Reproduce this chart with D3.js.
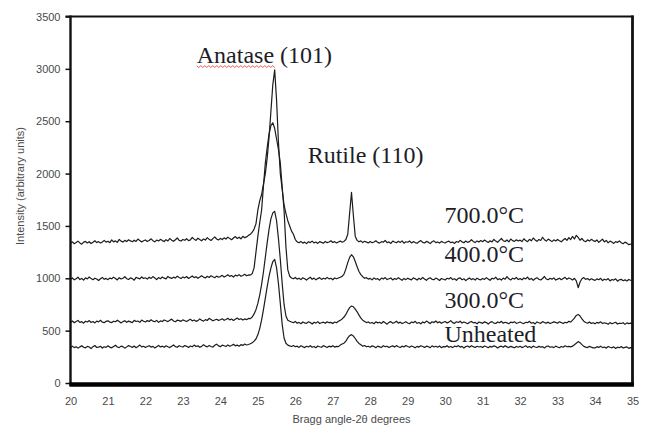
<!DOCTYPE html>
<html>
<head>
<meta charset="utf-8">
<script src="https://cdn.jsdelivr.net/npm/d3@7"></script>
<style>
  body { margin: 0; background: #fff; }
  svg { display: block; }
</style>
</head>
<body>
<div id="viz"></div>
<script>
// scans are sampled every 0.05 degree, 20 -> 35
const angleStart = 20, angleStep = 0.05;

const xTicks = [20,21,22,23,24,25,26,27,28,29,30,31,32,33,34,35];
const yTicks = [0,500,1000,1500,2000,2500,3000,3500];

const unheated = [
  340,352,338,347,333,345,356,341,336,350,344,329,347,358,339,343,351,334,346,340,
  355,342,336,349,361,344,338,352,347,333,345,357,348,340,353,337,349,362,345,351,
  339,348,356,343,350,335,347,359,344,352,341,355,346,338,351,363,347,341,356,349,
  344,358,350,339,353,346,362,348,355,341,350,366,352,345,358,349,343,360,371,354,
  347,361,356,349,364,352,358,370,355,362,351,366,359,372,363,368,375,385,400,420,
  460,520,600,700,810,920,1020,1100,1160,1180,1100,950,760,560,430,380,362,355,349,358,
  346,352,340,355,347,338,351,344,356,342,349,337,353,346,341,357,348,339,352,345,
  356,343,350,347,362,372,380,400,430,452,462,448,425,398,378,365,352,358,346,351,
  342,355,348,337,352,345,340,356,347,351,338,349,355,343,357,346,339,352,344,358,
  348,341,353,346,336,350,343,356,349,340,352,347,338,355,344,351,342,354,337,348,
  345,356,341,349,338,352,346,357,343,350,335,348,353,342,356,347,339,351,344,349,
  340,353,346,337,350,343,355,348,334,347,352,341,356,345,338,350,343,336,349,342,
  351,338,346,355,340,348,336,352,344,339,350,343,347,335,349,353,341,346,338,352,
  344,337,349,342,355,346,350,345,352,365,380,395,385,366,350,343,338,350,342,336,
  335,347,340,352,338,344,333,349,341,336,345,330,342,337,348,334,340,345,331,338,
  333
];

const heated300 = [
  580,592,575,588,597,579,586,571,590,583,596,578,587,574,591,584,599,581,576,589,
  594,582,577,590,585,600,588,573,586,595,580,591,584,577,598,587,592,579,601,590,
  583,596,588,604,591,585,598,579,593,587,602,594,586,599,610,592,585,600,596,589,
  603,595,587,599,608,593,601,589,596,612,600,591,605,597,618,606,594,602,609,598,
  604,613,599,607,618,603,611,597,609,620,606,614,601,612,605,617,615,630,660,700,
  760,840,940,1060,1200,1340,1470,1570,1625,1640,1550,1380,1180,950,750,640,600,590,582,576,
  588,571,579,566,583,574,569,585,577,563,580,572,586,568,575,581,570,584,576,579,
  568,582,575,590,598,612,630,655,690,720,735,728,705,680,648,620,600,588,577,583,
  571,578,566,584,574,580,569,587,575,562,579,586,571,577,590,572,581,568,576,585,
  573,566,582,576,589,570,578,565,583,574,591,579,568,585,577,592,575,584,570,580,
  587,574,581,596,577,569,585,578,590,572,583,575,566,580,588,574,579,565,582,576,
  570,584,577,563,579,586,572,568,583,575,589,571,580,574,566,581,577,585,569,575,
  582,573,567,580,576,589,571,578,564,583,575,570,586,577,572,581,568,576,584,579,
  571,585,577,568,580,574,589,582,600,620,645,655,640,612,590,578,571,583,569,576,
  565,579,572,584,568,575,570,561,577,566,573,580,563,571,568,576,560,574,567,572,
  569
];

const heated400 = [
  990,1003,985,996,1010,988,999,983,1005,994,1012,997,986,1001,993,979,996,1008,990,999,
  987,1002,995,1011,998,984,1006,993,1000,1015,996,989,1004,997,982,1009,1001,994,1013,998,
  1005,992,1010,999,1016,1003,987,1007,996,1012,1001,994,1018,1006,999,1011,1002,1020,1008,997,
  1013,1004,1017,998,1009,1022,1006,1015,1000,1012,1025,1011,1003,1019,1008,1024,1014,1005,1021,1010,
  1016,1028,1012,1021,1033,1018,1026,1011,1030,1022,1035,1019,1027,1038,1024,1032,1030,1045,1100,1250,
  1400,1530,1650,1880,2100,2250,2380,2460,2485,2430,2330,2230,2100,1870,1650,1300,1080,1020,1003,995,
  1008,992,1001,987,1005,996,983,999,1010,990,1002,985,997,1006,989,1001,993,1009,994,1000,
  986,1003,995,1003,1010,1018,1040,1090,1150,1200,1225,1205,1160,1110,1065,1035,1015,1000,1006,992,
  999,985,1004,991,997,982,1002,994,1007,988,996,1003,984,998,990,1006,993,981,999,987,
  1001,992,985,1004,996,983,1000,989,1008,994,981,997,1005,990,986,1002,993,979,998,991,
  984,1000,993,1007,988,996,981,999,1004,986,995,978,992,1003,987,997,983,1001,990,985,
  998,989,1006,992,981,1000,994,1010,987,996,983,1002,991,1015,995,984,1001,993,1008,988,
  997,985,1003,994,1012,988,999,981,995,1006,991,984,998,1017,993,986,1000,990,1004,983,
  992,1001,986,998,1009,990,1003,995,984,1000,975,910,965,995,1007,989,998,983,995,987,
  980,994,986,1000,978,991,984,997,975,988,983,995,972,986,990,977,985,974,989,981,
  978
];

const heated700 = [
  1335,1348,1330,1342,1355,1338,1326,1345,1352,1337,1349,1332,1344,1358,1341,1350,1336,1347,1362,1345,
  1353,1340,1366,1348,1357,1343,1371,1355,1346,1362,1351,1368,1357,1349,1364,1352,1375,1360,1347,1358,
  1366,1352,1361,1377,1359,1348,1365,1356,1372,1360,1351,1369,1357,1380,1364,1353,1368,1385,1362,1356,
  1371,1363,1378,1359,1367,1390,1374,1361,1383,1370,1358,1376,1365,1388,1372,1361,1379,1395,1375,1366,
  1381,1370,1386,1375,1393,1379,1368,1385,1398,1380,1392,1377,1401,1388,1395,1410,1420,1440,1470,1520,
  1650,1740,1800,1900,2000,2150,2350,2600,2850,2990,2700,2300,2000,1850,1700,1620,1550,1500,1450,1420,
  1370,1348,1340,1352,1336,1345,1331,1349,1341,1355,1338,1346,1333,1350,1343,1335,1352,1340,1347,1358,
  1342,1350,1337,1346,1355,1344,1352,1370,1420,1620,1820,1600,1400,1362,1349,1357,1341,1353,1345,1338,
  1351,1339,1347,1358,1343,1336,1350,1344,1362,1340,1348,1333,1355,1346,1339,1353,1342,1357,1335,1349,
  1344,1356,1338,1350,1341,1335,1348,1360,1343,1337,1352,1345,1331,1349,1358,1340,1347,1336,1353,1342,
  1337,1349,1355,1340,1346,1333,1351,1344,1362,1348,1339,1356,1343,1350,1368,1352,1341,1357,1346,1360,
  1349,1365,1353,1342,1358,1347,1371,1355,1344,1362,1380,1359,1351,1366,1348,1375,1360,1352,1368,1356,
  1364,1351,1377,1360,1349,1372,1358,1385,1366,1353,1370,1361,1392,1368,1355,1374,1363,1350,1367,1356,
  1371,1359,1348,1366,1380,1362,1389,1370,1400,1375,1410,1390,1363,1381,1358,1349,1367,1355,1372,1360,
  1351,1366,1343,1358,1374,1347,1362,1338,1355,1346,1333,1350,1342,1357,1339,1330,1345,1336,1321,1327,
  1322
];

const seriesNames = ['700.0°C','400.0°C','300.0°C','Unheated'];

let svg = d3.select('#viz')
    .append('svg')
    .attr('width', 653)
    .attr('height', 428);

let x = d3.scaleLinear().domain([20, 35]).range([70.5, 632.5]);
let y = d3.scaleLinear().domain([0, 3500]).range([383, 16.5]);

// curves
let line = d3.line()
    .x(function(d, i) { return x(angleStart + i * angleStep); })
    .y(function(d) { return y(d); });

svg.selectAll('.scan')
    .data([unheated, heated300, heated400, heated700])
  .enter().append('path')
    .attr('class', 'scan')
    .attr('d', line)
    .attr('fill', 'none')
    .attr('stroke', '#1c1c1c')
    .attr('stroke-width', 1.2)
    .attr('stroke-linejoin', 'round');

// axes
let yAxis = svg.append('g')
    .attr('transform', 'translate(' + x(20) + ',0)')
    .call(d3.axisLeft(y).tickValues(yTicks).tickFormat(d3.format('d')).tickSize(5).tickPadding(5));
yAxis.select('.domain').remove();
yAxis.selectAll('line').attr('stroke', '#111').attr('stroke-width', 1.5);
yAxis.selectAll('text')
    .style('font-family', '"Liberation Sans", Arial, sans-serif')
    .style('font-size', '11px')
    .attr('fill', '#4a4a4a');

let xAxis = svg.append('g')
    .attr('transform', 'translate(0,' + y(0) + ')')
    .call(d3.axisBottom(x).tickValues(xTicks).tickFormat(d3.format('d')).tickSize(0).tickPadding(14));
xAxis.select('.domain').remove();
xAxis.selectAll('text')
    .style('font-family', '"Liberation Sans", Arial, sans-serif')
    .style('font-size', '11px')
    .attr('fill', '#4a4a4a');

// frame
svg.append('line')
    .attr('x1', x(20) - 5).attr('x2', x(35) + 1)
    .attr('y1', y(3500)).attr('y2', y(3500))
    .attr('stroke', '#111').attr('stroke-width', 2.2);
svg.append('line')
    .attr('x1', x(35)).attr('x2', x(35))
    .attr('y1', y(3500) - 1).attr('y2', y(0) + 3)
    .attr('stroke', '#111').attr('stroke-width', 2.8);
svg.append('line')
    .attr('x1', x(20)).attr('x2', x(20))
    .attr('y1', y(3500) - 1).attr('y2', y(0) + 3)
    .attr('stroke', '#111').attr('stroke-width', 2.4);
svg.append('line')
    .attr('x1', x(20) - 1).attr('x2', x(35) + 1.4)
    .attr('y1', y(0) + 1.5).attr('y2', y(0) + 1.5)
    .attr('stroke', '#000').attr('stroke-width', 4.5);

// axis titles
svg.append('text')
    .attr('x', (x(20) + x(35)) / 2)
    .attr('y', 423)
    .attr('text-anchor', 'middle')
    .style('font-family', '"Liberation Sans", Arial, sans-serif')
    .style('font-size', '11px')
    .attr('fill', '#4a4a4a')
    .text('Bragg angle-2θ degrees');

svg.append('text')
    .attr('transform', 'translate(24,186) rotate(-90)')
    .attr('text-anchor', 'middle')
    .style('font-family', '"Liberation Sans", Arial, sans-serif')
    .style('font-size', '11px')
    .attr('fill', '#4a4a4a')
    .text('Intensity (arbitrary units)');

// annotations
let serif = '"Liberation Serif", "Times New Roman", serif';
let notes = [
  {t: 'Anatase (101)', a: 23.37, v: 3060},
  {t: 'Rutile (110)', a: 26.33, v: 2100},
  {t: seriesNames[0], a: 29.98, v: 1528},
  {t: seriesNames[1], a: 29.98, v: 1160},
  {t: seriesNames[2], a: 29.98, v: 716},
  {t: seriesNames[3], a: 29.98, v: 387}
];
svg.selectAll('.note')
    .data(notes)
  .enter().append('text')
    .attr('class', 'note')
    .attr('x', function(d) { return x(d.a); })
    .attr('y', function(d) { return y(d.v); })
    .style('font-family', serif)
    .style('font-size', '24px')
    .attr('fill', '#1d1d28')
    .text(function(d) { return d.t; });

// red spell-check squiggle under "Anatase"
let sq = [];
for (let px = x(23.37); px <= x(23.37) + 78; px += 2) {
  sq.push([px, y(3060) + 3.5 + (sq.length % 2 ? 1.4 : -0.4)]);
}
svg.append('path')
    .attr('d', d3.line()(sq))
    .attr('fill', 'none')
    .attr('stroke', '#e04848')
    .attr('stroke-width', 0.9);
</script>
</body>
</html>
